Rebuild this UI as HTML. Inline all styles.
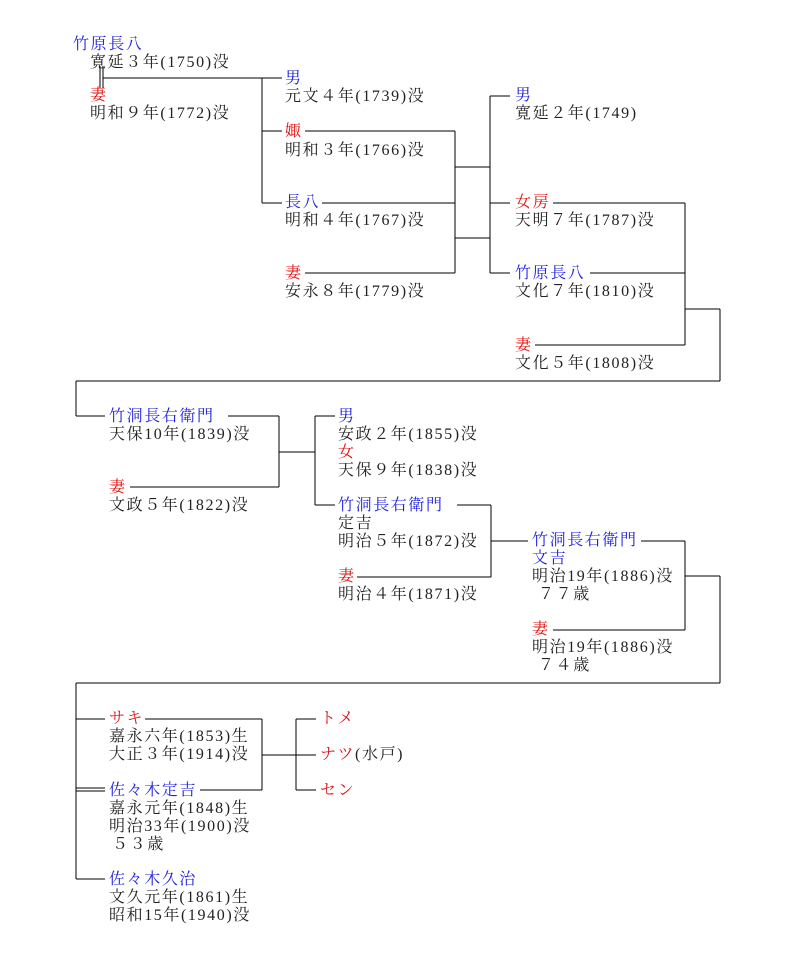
<!DOCTYPE html>
<html><head><meta charset="utf-8"><style>
body{margin:0;background:#fff;width:800px;height:960px;position:relative;overflow:hidden}
.t{position:absolute;font-family:"Liberation Serif","Noto Serif CJK JP",serif;font-size:16px;line-height:18px;letter-spacing:1.6px;color:#222;white-space:nowrap}
.b{color:#2020e0}.r{color:#e01010}
svg{position:absolute;left:0;top:0}
</style></head><body>
<svg width="800" height="960" stroke="#000" stroke-width="1.2" fill="none" shape-rendering="crispEdges">
<path d="M100 66V88M103 66V88M103 78H282M262 78V203M262 131H282M262 203H282
M305 131H455M455 131V273M322 203H455M305 273H455M455 167H490M455 238H490M490 96V273M490 96H510M490 203H510M490 273H510
M553 203H685M590 273H685M685 203V345M535 345H685M685 309H720M720 309V381M76 381H720M76 381V416M76 416H105
M228 416H279M279 416V487M130 487H279M279 452H315M315 416V505M315 416H335M315 505H335
M457 505H491M491 505V577M357 577H491M491 541H528
M641 541H685M685 541V630M553 630H685M685 576H720M720 576V683M76 683H720M76 683V879M76 719H105M76 788H105M76 791H105M76 879H105
M145 719H262M262 719V790M200 790H262M262 755H316M296 719V790M296 719H316M296 790H316"/>
</svg>
<div class="t b" style="left:73px;top:36px">竹原長八</div>
<div class="t" style="left:90px;top:54px">寛延３年(1750)没</div>
<div class="t r" style="left:90px;top:87px">妻</div>
<div class="t" style="left:90px;top:105px">明和９年(1772)没</div>
<div class="t b" style="left:285px;top:70px">男</div>
<div class="t" style="left:285px;top:88px">元文４年(1739)没</div>
<div class="t r" style="left:285px;top:123px">娵</div>
<div class="t" style="left:285px;top:142px">明和３年(1766)没</div>
<div class="t b" style="left:285px;top:194px">長八</div>
<div class="t" style="left:285px;top:212px">明和４年(1767)没</div>
<div class="t r" style="left:285px;top:265px">妻</div>
<div class="t" style="left:285px;top:283px">安永８年(1779)没</div>
<div class="t b" style="left:515px;top:87px">男</div>
<div class="t" style="left:515px;top:105px">寛延２年(1749)</div>
<div class="t r" style="left:515px;top:194px">女房</div>
<div class="t" style="left:515px;top:212px">天明７年(1787)没</div>
<div class="t b" style="left:515px;top:265px">竹原長八</div>
<div class="t" style="left:515px;top:283px">文化７年(1810)没</div>
<div class="t r" style="left:515px;top:337px">妻</div>
<div class="t" style="left:515px;top:355px">文化５年(1808)没</div>
<div class="t b" style="left:109px;top:408px">竹洞長右衛門</div>
<div class="t" style="left:109px;top:426px">天保10年(1839)没</div>
<div class="t r" style="left:109px;top:479px">妻</div>
<div class="t" style="left:109px;top:497px">文政５年(1822)没</div>
<div class="t b" style="left:338px;top:408px">男</div>
<div class="t" style="left:338px;top:426px">安政２年(1855)没</div>
<div class="t r" style="left:338px;top:444px">女</div>
<div class="t" style="left:338px;top:462px">天保９年(1838)没</div>
<div class="t b" style="left:338px;top:497px">竹洞長右衛門</div>
<div class="t" style="left:338px;top:515px">定吉</div>
<div class="t" style="left:338px;top:533px">明治５年(1872)没</div>
<div class="t r" style="left:338px;top:568px">妻</div>
<div class="t" style="left:338px;top:586px">明治４年(1871)没</div>
<div class="t b" style="left:532px;top:532px">竹洞長右衛門</div>
<div class="t b" style="left:532px;top:550px">文吉</div>
<div class="t" style="left:532px;top:568px">明治19年(1886)没</div>
<div class="t" style="left:538px;top:586px">７７歳</div>
<div class="t r" style="left:532px;top:621px">妻</div>
<div class="t" style="left:532px;top:639px">明治19年(1886)没</div>
<div class="t" style="left:538px;top:657px">７４歳</div>
<div class="t r" style="left:109px;top:710px">サキ</div>
<div class="t" style="left:109px;top:728px">嘉永六年(1853)生</div>
<div class="t" style="left:109px;top:746px">大正３年(1914)没</div>
<div class="t b" style="left:109px;top:782px">佐々木定吉</div>
<div class="t" style="left:109px;top:800px">嘉永元年(1848)生</div>
<div class="t" style="left:109px;top:818px">明治33年(1900)没</div>
<div class="t" style="left:112px;top:836px">５３歳</div>
<div class="t b" style="left:109px;top:871px">佐々木久治</div>
<div class="t" style="left:109px;top:889px">文久元年(1861)生</div>
<div class="t" style="left:109px;top:907px">昭和15年(1940)没</div>
<div class="t r" style="left:320px;top:710px">トメ</div>
<div class="t" style="left:320px;top:746px"><span class="r">ナツ</span>(水戸)</div>
<div class="t r" style="left:320px;top:782px">セン</div>
</body></html>
